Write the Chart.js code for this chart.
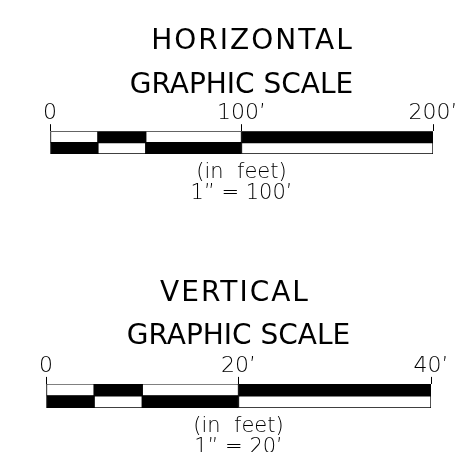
<!DOCTYPE html>
<html><head><meta charset="utf-8">
<script src="https://cdn.jsdelivr.net/npm/chart.js@4"></script>
<style>
html,body{margin:0;padding:0;background:#fff;}
#wrap{position:relative;width:472px;height:452px;overflow:hidden;}
canvas{position:absolute;left:0;}
</style></head><body>
<div id="wrap">
<canvas id="h" width="472" height="226" style="top:0"></canvas>
<canvas id="v" width="472" height="226" style="top:226px"></canvas>
</div>
<script>
const ROWS = ['upper', 'lower'];
const H_TITLE = 'HORIZONTAL';
const V_TITLE = 'VERTICAL';
const SUBTITLE = 'GRAPHIC SCALE';
const H_BREAKS = [0, 25, 50, 100, 200];
const H_TICKS = [0, 100, 200];
const H_TICK_LABELS = ['0', '100’', '200’'];
const H_NOTE = ['(in  feet)', '1” = 100’'];
const V_BREAKS = [0, 5, 10, 20, 40];
const V_TICKS = [0, 20, 40];
const V_TICK_LABELS = ['0', '20’', '40’'];
const V_NOTE = ['(in  feet)', '1” = 20’'];

const THIN = {family: "'DejaVu Sans'", size: 22, weight: 200, lineHeight: 1};
const NOTE_FONT = {family: "'DejaVu Sans'", size: 21, weight: 200, lineHeight: 1};
const BIG = {family: "'DejaVu Sans'", size: 28, weight: 'normal', lineHeight: 1.2};

// widens / nudges the main title drawn by the Chart.js title plugin
const titleStyle = {
  id: 'titleStyle',
  afterLayout(chart, args, opts) {
    const tb = chart.titleBlock;
    if (!tb || tb._styled) return;
    const orig = tb.draw.bind(tb);
    tb.draw = function (area) {
      const ctx = chart.ctx;
      ctx.save();
      ctx.letterSpacing = (opts.spacing || 0) + 'px';
      ctx.translate(opts.dx || 0, 0);
      orig(area);
      ctx.restore();
    };
    tb._styled = true;
  }
};

function makeScale(id, cfg) {
  const datasets = [];
  for (let i = 0; i < cfg.breaks.length - 1; i++) {
    const seg = [cfg.breaks[i], cfg.breaks[i + 1]];
    const upperBlack = i % 2 === 1;
    datasets.push({
      label: 'segment ' + (i + 1),
      data: [seg, seg],
      backgroundColor: upperBlack ? ['#000', '#fff'] : ['#fff', '#000'],
      borderColor: '#000',
      borderWidth: 1,
      borderSkipped: false,
      grouped: false,
      barPercentage: 1,
      categoryPercentage: 1
    });
  }
  const max = cfg.breaks[cfg.breaks.length - 1];
  return new Chart(document.getElementById(id), {
    type: 'bar',
    data: {labels: ROWS, datasets},
    plugins: [titleStyle],
    options: {
      indexAxis: 'y',
      responsive: false,
      animation: false,
      events: [],
      layout: {padding: cfg.padding},
      plugins: {
        legend: {display: false},
        tooltip: {enabled: false},
        title: {display: true, text: cfg.title, color: '#000', font: BIG, padding: cfg.titlePad},
        subtitle: {display: true, text: SUBTITLE, color: '#000', font: BIG, padding: cfg.subPad},
        titleStyle: {spacing: 2, dx: cfg.titleDx}
      },
      scales: {
        y: {type: 'category', display: false, offset: true},
        x: {
          type: 'linear', position: 'top', min: 0, max: max,
          afterBuildTicks: (s) => { s.ticks = cfg.ticks.map(v => ({value: v})); },
          ticks: {
            color: '#000', font: THIN, padding: 0, maxRotation: 0, autoSkip: false,
            callback: (v, i) => cfg.tickLabels[i]
          },
          grid: {display: true, drawOnChartArea: false, drawTicks: true, tickLength: 7, color: '#000', lineWidth: 1},
          border: {display: false}
        },
        x2: {
          type: 'linear', position: 'bottom', min: 0, max: max, axis: 'x',
          ticks: {display: false},
          grid: {display: false, drawTicks: false},
          border: {display: false},
          title: {
            display: true, text: cfg.note, color: '#000', font: NOTE_FONT,
            padding: cfg.notePad
          }
        }
      }
    }
  });
}

makeScale('h', {
  title: H_TITLE, breaks: H_BREAKS, ticks: H_TICKS, tickLabels: H_TICK_LABELS, note: H_NOTE,
  padding: {left: 50, right: 39, top: 0, bottom: 22},
  titlePad: {top: 25, bottom: 0}, subPad: {top: 10, bottom: 0}, titleDx: 11,
  notePad: {top: 8, bottom: 0}
});
makeScale('v', {
  title: V_TITLE, breaks: V_BREAKS, ticks: V_TICKS, tickLabels: V_TICK_LABELS, note: V_NOTE,
  padding: {left: 46, right: 41, top: 0, bottom: 0},
  titlePad: {top: 50.5, bottom: 0}, subPad: {top: 9.5, bottom: 1.7}, titleDx: -3.5,
  notePad: {top: 8, bottom: -6}
});
</script>
</body></html>
